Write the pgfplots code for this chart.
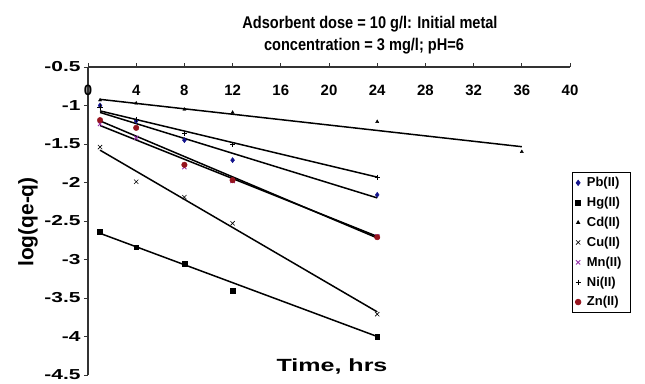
\documentclass[border=0pt]{standalone}
\usepackage{pgfplots}
\pgfplotsset{compat=1.18}
\usepackage{fontspec}
\setmainfont{Liberation Sans}
\newfontfamily\wideA[FakeStretch=1.45]{Liberation Sans}
\newfontfamily\wideB[FakeStretch=1.42]{Liberation Sans}
\newfontfamily\narrowT[FakeStretch=0.86]{Liberation Sans}
\definecolor{pbblue}{RGB}{20,20,140}
\definecolor{mnpurple}{RGB}{150,50,170}
\definecolor{znred}{RGB}{150,20,30}
\begin{document}
\begin{tikzpicture}[x=1bp,y=1bp]
\path[use as bounding box] (-88,-8) rectangle (557,375);
\begin{axis}[
  at={(0,0)}, anchor=south west,
  width=482bp, height=308bp, scale only axis,
  xmin=0, xmax=40, ymin=-4.5, ymax=-0.5,
  axis x line*=top, axis y line*=left,
  axis line style={line width=1.2bp, black!80, -},
  xtick={0,4,...,40}, xticklabels={0,4,8,12,16,20,24,28,32,36,40},
  ytick={-4.5,-4,-3.5,-3,-2.5,-2,-1.5,-1,-0.5},
  yticklabels={-4.5,-4,-3.5,-3,-2.5,-2,-1.5,-1,-0.5},
  tick align=outside, major tick length=4bp,
  tick style={line width=1bp, black!80},
  xticklabel style={font=\bfseries\fontsize{15}{16}\selectfont, anchor=north, yshift=-19bp},
  yticklabel style={font=\wideA\bfseries\fontsize{14.5}{16}\selectfont},
  legend style={at={(1.004,0.659)}, anchor=north west, draw=black, line width=0.8bp,
    font=\bfseries\fontsize{13}{14}\selectfont, row sep=5bp, inner sep=3bp,
    nodes={inner xsep=6bp}},
  legend cell align=left,
  clip=false,
]
\addplot[only marks, mark=diamond*, mark size=2.6bp, color=pbblue] coordinates {(1,-1.0) (4,-1.2) (8,-1.45) (12,-1.71) (24,-2.16)};
\addlegendentry{Pb(II)}
\addplot[only marks, mark=square*, mark size=2.4bp, color=black] coordinates {(1,-2.64) (4,-2.84) (8,-3.05) (12,-3.41) (24,-4.0)};
\addlegendentry{Hg(II)}
\addplot[only marks, mark=triangle*, mark size=1.8bp, color=black] coordinates {(1,-0.93) (4,-0.97) (8,-1.05) (12,-1.09) (24,-1.21) (36,-1.60)};
\addlegendentry{Cd(II)}
\addplot[only marks, mark=x, mark size=3bp, color=black, line width=0.6bp] coordinates {(1,-1.54) (4,-1.99) (8,-2.19) (12,-2.53) (24,-3.71)};
\addlegendentry{Cu(II)}
\addplot[only marks, mark=x, mark size=3bp, color=mnpurple, line width=0.9bp] coordinates {(1,-1.24) (4,-1.42) (8,-1.80) (12,-1.98) (24,-2.70)};
\addlegendentry{Mn(II)}
\addplot[only marks, mark=+, mark size=2.6bp, color=black, line width=0.6bp] coordinates {(1,-1.02) (4,-1.18) (8,-1.36) (12,-1.51) (24,-1.93)};
\addlegendentry{Ni(II)}
\addplot[only marks, mark=*, mark size=2.8bp, color=znred] coordinates {(1,-1.19) (4,-1.29) (8,-1.77) (12,-1.97) (24,-2.71)};
\addlegendentry{Zn(II)}
\addplot[black, line width=1.5bp, forget plot] coordinates {(1,-0.92) (36,-1.535)};
\addplot[black, line width=1.5bp, forget plot] coordinates {(1,-1.07) (24,-1.93)};
\addplot[black, line width=1.5bp, forget plot] coordinates {(1,-1.09) (24,-2.20)};
\addplot[black, line width=1.5bp, forget plot] coordinates {(1,-1.20) (24,-2.72)};
\addplot[black, line width=1.5bp, forget plot] coordinates {(1,-1.26) (24,-2.70)};
\addplot[black, line width=1.5bp, forget plot] coordinates {(1,-1.58) (24,-3.68)};
\addplot[black, line width=1.5bp, forget plot] coordinates {(1,-2.66) (24,-4.00)};
\end{axis}
\node[anchor=base, font=\narrowT\bfseries\fontsize{17}{22}\selectfont] at (282,347) {Adsorbent dose = 10 g/l: Initial metal};
\node[anchor=base, font=\narrowT\bfseries\fontsize{17}{22}\selectfont] at (276,325) {concentration = 3 mg/l; pH=6};
\node[font=\wideB\bfseries\fontsize{17.7}{20}\selectfont] at (244,9) {Time, hrs};
\node[rotate=90, font=\bfseries\fontsize{21}{24}\selectfont] at (-60,153) {log(qe-q)};
\end{tikzpicture}
\end{document}
